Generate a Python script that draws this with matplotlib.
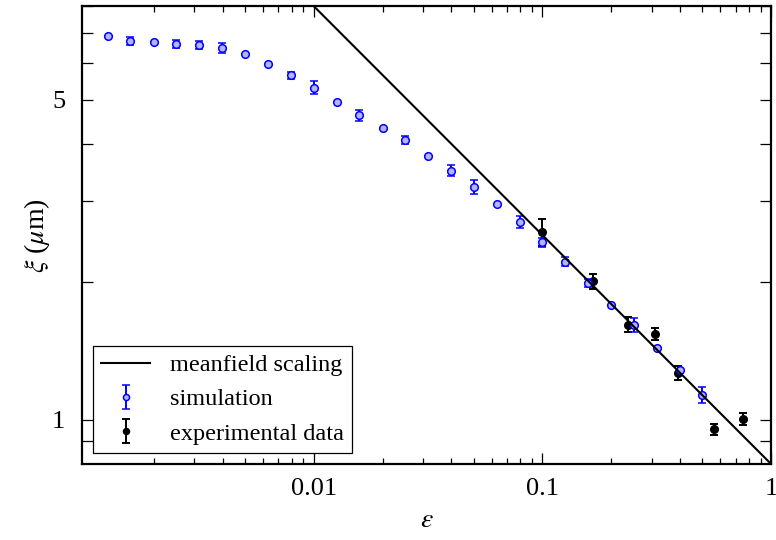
import matplotlib
matplotlib.use('Agg')
import matplotlib.pyplot as plt
from matplotlib.ticker import FixedLocator, NullFormatter, FixedFormatter

plt.rcParams['font.family'] = ['Liberation Serif', 'DejaVu Serif']
plt.rcParams['mathtext.fontset'] = 'stix'

# simulation data
sim_eps = [0.00126, 0.00158, 0.002, 0.00251, 0.00316, 0.00398, 0.00501, 0.00631, 0.00794,
           0.01, 0.0126, 0.0158, 0.02, 0.0251, 0.0316, 0.0398, 0.0501, 0.0631, 0.0794,
           0.1, 0.126, 0.158, 0.2, 0.251, 0.316, 0.398, 0.501]
sim_xi = [6.87, 6.72, 6.68, 6.61, 6.57, 6.47, 6.30, 5.99, 5.65,
          5.31, 4.93, 4.62, 4.34, 4.08, 3.77, 3.50, 3.22, 2.96, 2.70,
          2.44, 2.21, 1.985, 1.781, 1.61, 1.437, 1.282, 1.133]
sim_err = [0.0, 0.13, 0.0, 0.13, 0.13, 0.16, 0.0, 0.0, 0.10,
           0.17, 0.0, 0.12, 0.0, 0.08, 0.0, 0.10, 0.11, 0.0, 0.08,
           0.055, 0.05, 0.04, 0.0, 0.06, 0.0, 0.0, 0.043]

# experimental data
exp_eps = [0.1, 0.166, 0.236, 0.311, 0.39, 0.564, 0.757]
exp_xi = [2.57, 2.005, 1.613, 1.539, 1.263, 0.953, 1.003]
exp_err = [0.17, 0.075, 0.06, 0.047, 0.045, 0.025, 0.032]

# meanfield scaling xi ~ eps^(-1/2), endpoints
mf_eps = [0.01, 1.0]
mf_xi = [8.0, 0.8]

fig = plt.figure(figsize=(7.76, 5.4), dpi=100)
ax = fig.add_axes([0.1057, 0.1407, 0.888, 0.848])

ax.plot(mf_eps, mf_xi, color='black', linewidth=1.5, label='meanfield scaling', zorder=4)
sim = ax.errorbar(sim_eps, sim_xi, yerr=sim_err, fmt='o', color='#0000ff',
                  markerfacecolor='#b4b4ff', markeredgecolor='#0000ff', markersize=5.5,
                  markeredgewidth=1.1, elinewidth=1.4, capsize=2.8, capthick=1.4,
                  label='simulation', zorder=3)
exp = ax.errorbar(exp_eps, exp_xi, yerr=exp_err, fmt='o', color='black',
                  markersize=5.5, elinewidth=1.4, capsize=2.8, capthick=1.4,
                  label='experimental data', zorder=2)

ax.set_xscale('log')
ax.set_yscale('log')
ax.set_xlim(0.00097, 1.0)
ax.set_ylim(0.8, 8.0)

ax.set_xticks([0.01, 0.1, 1])
ax.set_xticklabels(['0.01', '0.1', '1'])
ax.yaxis.set_major_locator(FixedLocator([1, 5]))
ax.yaxis.set_major_formatter(FixedFormatter(['1', '5']))
ax.yaxis.set_minor_locator(FixedLocator([0.9, 2, 3, 4, 6, 7, 8]))
ax.yaxis.set_minor_formatter(NullFormatter())

ax.tick_params(which='both', direction='in', top=True, right=True, labelsize=19, width=0.9)
ax.tick_params(axis='x', which='major', length=8, pad=10)
ax.tick_params(axis='x', which='minor', length=4)
ax.tick_params(axis='y', which='both', length=8, pad=12)
for s in ax.spines.values():
    s.set_linewidth(1.6)

ax.set_xlabel(r'$\varepsilon$', fontsize=20, labelpad=6)
ax.set_ylabel(r'$\xi$ ($\mu$m)', fontsize=20, labelpad=0)

leg = ax.legend(loc='lower left', fontsize=17.5, fancybox=False, framealpha=1,
                edgecolor='black', handlelength=2.0, borderaxespad=0.45,
                labelspacing=0.5, markerscale=0.8, borderpad=0.35)
leg.get_frame().set_linewidth(0.9)

fig.savefig('out.png', dpi=100)
